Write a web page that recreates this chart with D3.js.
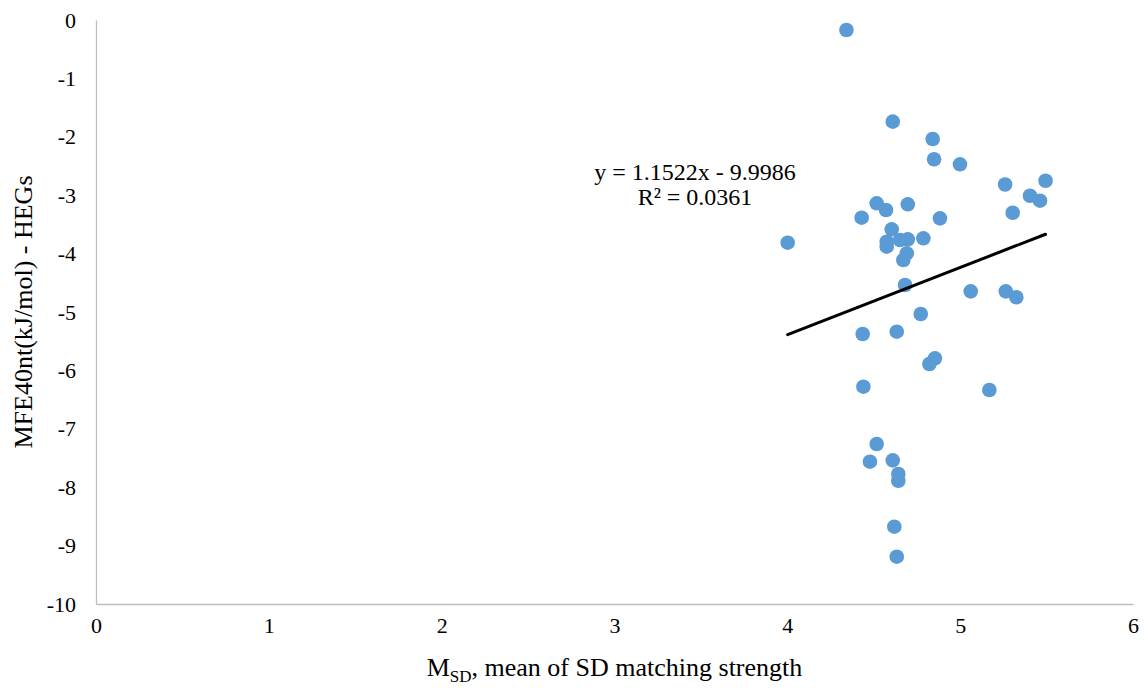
<!DOCTYPE html>
<html>
<head>
<meta charset="utf-8">
<title>MFE40nt vs MSD</title>
<script src="https://d3js.org/d3.v7.min.js"></script>
<style>
  body { margin: 0; background: #fff; }
  text { font-family: "Liberation Serif", "Times New Roman", serif; fill: #000; }
</style>
</head>
<body>
<div id="chart"></div>
<script>
// data
var msd = [4.342, 4.610, 4.841, 4.849, 4.999, 5.260, 5.494, 5.404, 5.462, 5.304,
           4.517, 4.571, 4.697, 4.430, 4.883, 4.604, 4.002, 4.575, 4.575, 4.652,
           4.697, 4.691, 4.671, 4.787, 4.681, 5.061, 5.264, 5.325, 4.772, 4.436,
           4.633, 4.854, 4.822, 4.440, 5.169, 4.517, 4.478, 4.610, 4.642, 4.642,
           4.619, 4.633];
var mfe = [-0.171, -1.741, -2.038, -2.385, -2.471, -2.817, -2.752, -3.009, -3.094, -3.300,
           -3.139, -3.253, -3.156, -3.385, -3.396, -3.584, -3.813, -3.796, -3.882, -3.767,
           -3.755, -3.995, -4.110, -3.738, -4.538, -4.646, -4.646, -4.748, -5.034, -5.377,
           -5.337, -5.793, -5.890, -6.279, -6.336, -7.260, -7.563, -7.540, -7.774, -7.889,
           -8.676, -9.190];
var xTicks = [0, 1, 2, 3, 4, 5, 6];
var yTicks = [0, -1, -2, -3, -4, -5, -6, -7, -8, -9, -10];
var slope = 1.1522, intercept = -9.9986;
var eqText = "y = 1.1522x - 9.9986";
var r2Text = "R\u00b2 = 0.0361";

var width = 1146, height = 688;
var margin = {top: 20, right: 13, bottom: 84, left: 96};

var svg = d3.select("#chart").append("svg")
    .attr("width", width)
    .attr("height", height);

var x = d3.scaleLinear().domain([0, 6]).range([margin.left, width - margin.right]);
var y = d3.scaleLinear().domain([-10, 0]).range([height - margin.bottom, margin.top]);

// axes
var xAxis = svg.append("g")
    .attr("transform", "translate(0," + y(-10) + ")")
    .call(d3.axisBottom(x).tickValues(xTicks).tickSize(0).tickPadding(13).tickFormat(d3.format("d")));
var yAxis = svg.append("g")
    .attr("transform", "translate(" + x(0) + ",0)")
    .call(d3.axisLeft(y).tickValues(yTicks).tickSize(0).tickPadding(20).tickFormat(d3.format("d")));

[xAxis, yAxis].forEach(function(g) {
  g.attr("font-family", null).attr("font-size", null);
  g.select(".domain").attr("stroke", "#bfbfbf").attr("stroke-width", 1.3);
  g.selectAll("text")
    .style("font-family", "'Liberation Serif', 'Times New Roman', serif")
    .style("font-size", "22px");
});
yAxis.selectAll("text").text(function(d) { return d === 0 ? "0" : "-" + Math.abs(d); });

// points
svg.append("g").selectAll("circle")
  .data(msd.map(function(v, i) { return {x: v, y: mfe[i]}; }))
  .enter().append("circle")
    .attr("cx", function(d) { return x(d.x); })
    .attr("cy", function(d) { return y(d.y); })
    .attr("r", 7.3)
    .attr("fill", "#5b9bd5");

// trend line
var xMin = d3.min(msd), xMax = d3.max(msd);
svg.append("line")
    .attr("x1", x(xMin)).attr("y1", y(slope * xMin + intercept))
    .attr("x2", x(xMax)).attr("y2", y(slope * xMax + intercept))
    .attr("stroke", "#000")
    .attr("stroke-width", 3)
    .attr("stroke-linecap", "round");

// equation
svg.append("text").attr("x", 695).attr("y", 180).attr("text-anchor", "middle")
    .style("font-size", "24px").text(eqText);
svg.append("text").attr("x", 695).attr("y", 205).attr("text-anchor", "middle")
    .style("font-size", "24px").text(r2Text);

// axis titles
var xt = svg.append("text")
    .attr("x", (x(0) + x(6)) / 2)
    .attr("y", 676)
    .attr("text-anchor", "middle")
    .style("font-size", "26px");
xt.append("tspan").text("M");
xt.append("tspan").attr("dy", 6).style("font-size", "17px").text("SD");
xt.append("tspan").attr("dy", -6).text(", mean of SD matching strength");

svg.append("text")
    .attr("transform", "translate(32," + ((y(0) + y(-10)) / 2) + ") rotate(-90)")
    .attr("text-anchor", "middle")
    .style("font-size", "26px")
    .text("MFE40nt(kJ/mol) - HEGs");
</script>
</body>
</html>
